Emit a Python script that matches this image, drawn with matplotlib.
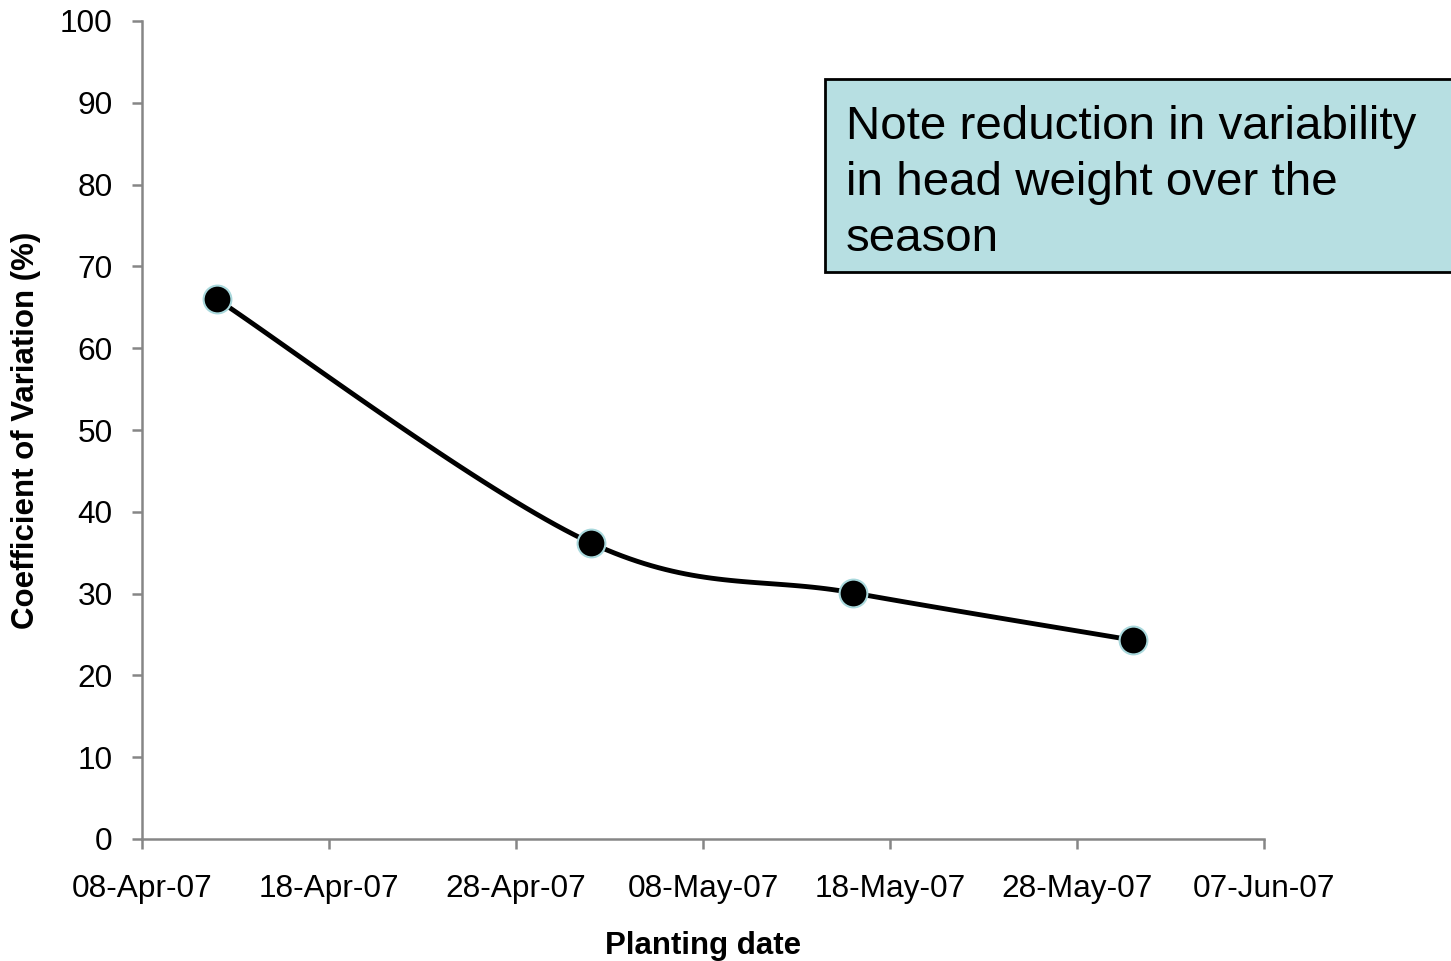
#!/usr/bin/env python3
import datetime
import numpy as np
import matplotlib
matplotlib.use('Agg')
import matplotlib.pyplot as plt
import matplotlib.dates as mdates
from matplotlib.patches import Rectangle

planting_dates = ['2007-04-12', '2007-05-02', '2007-05-16', '2007-05-31']
cv_percent = [66.0, 36.2, 30.1, 24.3]

tick_dates = ['2007-04-08', '2007-04-18', '2007-04-28', '2007-05-08',
              '2007-05-18', '2007-05-28', '2007-06-07']
y_ticks = [0, 10, 20, 30, 40, 50, 60, 70, 80, 90, 100]

note = 'Note reduction in variability\nin head weight over the\nseason'

AXIS_GREY = '#868686'
BOX_FILL = '#B7DFE2'


def to_num(dates):
    return mdates.date2num([datetime.datetime.strptime(d, '%Y-%m-%d') for d in dates])


def smooth_path(ax, x, y, steps=40):
    # Excel-style smoothed line: cubic Bezier through the points, with
    # Catmull-Rom control points worked out in screen space.
    pts = ax.transData.transform(np.column_stack([x, y]))
    padded = np.vstack([pts[0], pts, pts[-1]])
    t = np.linspace(0, 1, steps)[:, None]
    out = []
    for i in range(len(pts) - 1):
        p0, p3 = padded[i + 1], padded[i + 2]
        p1 = p0 + (padded[i + 2] - padded[i]) / 6
        p2 = p3 - (padded[i + 3] - padded[i + 1]) / 6
        seg = ((1 - t) ** 3 * p0 + 3 * (1 - t) ** 2 * t * p1
               + 3 * (1 - t) * t ** 2 * p2 + t ** 3 * p3)
        out.append(seg)
    out = np.vstack(out)
    return ax.transData.inverted().transform(out)


def main():
    plt.rcParams['font.family'] = ['Liberation Sans', 'DejaVu Sans']

    W, H = 1451, 961
    fig = plt.figure(figsize=(W / 100, H / 100), dpi=100)
    ax = fig.add_axes([142 / W, (H - 839) / H, (1264 - 142) / W, (839 - 21) / H])

    xt = to_num(tick_dates)
    ax.set_xlim(xt[0], xt[-1])
    ax.set_ylim(0, 100)
    ax.set_xticks(xt)
    ax.xaxis.set_major_formatter(mdates.DateFormatter('%d-%b-%y'))
    ax.set_yticks(y_ticks)

    for side in ('top', 'right'):
        ax.spines[side].set_visible(False)
    for side in ('left', 'bottom'):
        ax.spines[side].set_color(AXIS_GREY)
        ax.spines[side].set_linewidth(1.8)
    ax.tick_params(axis='both', colors=AXIS_GREY, labelcolor='black',
                   labelsize=22.8, width=1.8, length=7, direction='out')
    ax.tick_params(axis='x', pad=18.4)
    ax.tick_params(axis='y', pad=14)

    ax.set_xlabel('Planting date', fontsize=22.5, fontweight='bold', labelpad=19.5)
    ax.set_ylabel('Coefficient of Variation (%)', fontsize=22.5,
                  fontweight='bold', labelpad=14)

    x = to_num(planting_dates)
    fig.canvas.draw()
    curve = smooth_path(ax, x, cv_percent)
    ax.plot(curve[:, 0], curve[:, 1], color='black', lw=3.5,
            solid_capstyle='round', zorder=2)
    ax.plot(x, cv_percent, 'o', ms=20, mfc='black', mec='#A9D8DC',
            mew=1.5, zorder=3, clip_on=False)

    # note box, running off the right edge of the figure
    box = Rectangle((825 / W, 1 - 272 / H), (W + 20 - 825) / W, (272 - 79) / H,
                    transform=fig.transFigure, facecolor=BOX_FILL,
                    edgecolor='black', lw=2, zorder=5)
    fig.patches.append(box)
    # multiline text with baseline alignment sits on the last line's baseline
    fig.text(846 / W, 1 - 251 / H, note, fontsize=34.2, va='baseline',
             ha='left', linespacing=1.36, zorder=6)

    fig.savefig('out.png', dpi=100)


if __name__ == '__main__':
    main()
